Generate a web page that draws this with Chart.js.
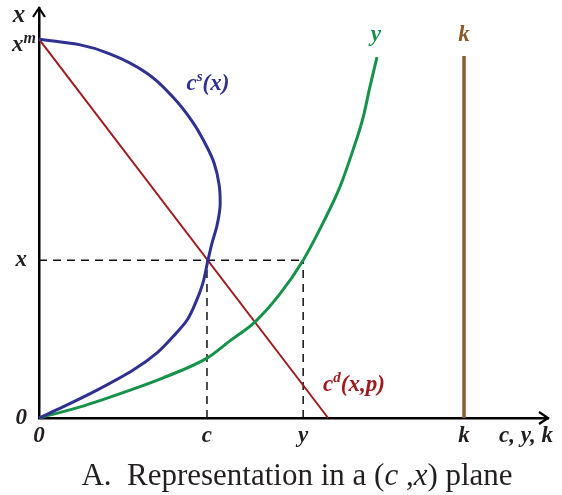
<!DOCTYPE html>
<html>
<head>
<meta charset="utf-8">
<script src="https://cdn.jsdelivr.net/npm/chart.js@4.4.1/dist/chart.umd.min.js"></script>
<style>
  body { margin: 0; background: #fff; }
  canvas { display: block; }
</style>
</head>
<body>
<canvas id="plane" width="562" height="495"></canvas>
<script>
// values (horizontal: c, y, k ; vertical: x), axis range 0..10
const supplyC = [0, 0.47, 1.14, 1.85, 2.32, 2.63, 2.91, 3.10, 3.22, 3.32, 3.40, 3.50, 3.56, 3.54, 3.44, 3.30, 3.03, 2.63, 2.12, 1.45, 0.81, 0];
const supplyX = [0, 0.27, 0.68, 1.17, 1.59, 1.98, 2.39, 2.88, 3.29, 3.85, 4.27, 4.71, 5.24, 5.68, 6.22, 6.61, 7.20, 7.83, 8.41, 8.85, 9.10, 9.24];

const outputY = [0, 0.81, 1.79, 2.44, 3.30, 3.75, 4.24, 4.73, 5.19, 5.58, 5.91, 6.17, 6.37, 6.50, 6.64];
const outputX = [0, 0.27, 0.68, 0.98, 1.46, 1.88, 2.34, 3.02, 3.85, 4.76, 5.63, 6.54, 7.34, 8.07, 8.80];

const demandC = [0, 5.68];
const demandX = [9.24, 0];

const capK = 8.35;
const capTop = 8.83;

const eqC = 3.30;
const eqY = 5.19;
const eqX = 3.85;
const xMax = 9.24;

const xTickVals = [0, eqC, eqY, capK];
const xTickLabels = ["0", "c", "y", "k"];
const yTickVals = [0, eqX, xMax];
const yTickLabels = ["0", "x", ""];

const BLUE = "#2e3192", GREEN = "#16924a", RED = "#9e1b20", BROWN = "#8e5a2a", INK = "#231f20";
const BI = "bold italic 23px 'Liberation Serif'";

const pts = (xs, ys) => xs.map((v, i) => ({ x: v, y: ys[i] }));

function line(data, color, width, extra) {
  return Object.assign({
    data, borderColor: color, borderWidth: width,
    pointRadius: 0, tension: 0, fill: false, clip: false
  }, extra || {});
}

// draw a run of text pieces: [text, font, dy]
function drawRun(ctx, parts, x, y, color, align) {
  let total = 0;
  parts.forEach(p => { ctx.font = p[1]; total += ctx.measureText(p[0]).width; });
  let cx = align === "center" ? x - total / 2 : align === "right" ? x - total : x;
  ctx.fillStyle = color;
  ctx.textAlign = "left";
  ctx.textBaseline = "alphabetic";
  parts.forEach(p => {
    ctx.font = p[1];
    ctx.fillText(p[0], cx, y + (p[2] || 0));
    cx += ctx.measureText(p[0]).width;
  });
}

const decorations = {
  id: "decorations",
  afterDraw(chart) {
    const ctx = chart.ctx;
    const { left, right, top, bottom } = chart.chartArea;
    const xs = chart.scales.x, ys = chart.scales.y;
    ctx.save();

    // arrow heads on the axes
    ctx.strokeStyle = "#000";
    ctx.lineWidth = 2.2;
    ctx.beginPath();
    ctx.moveTo(left - 6, top + 9); ctx.lineTo(left, top); ctx.lineTo(left + 6, top + 9);
    ctx.moveTo(right - 9, bottom - 6); ctx.lineTo(right, bottom); ctx.lineTo(right - 9, bottom + 6);
    ctx.stroke();

    // axis names
    drawRun(ctx, [["x", "bold italic 25px 'Liberation Serif'"]], left - 20, top + 14, INK, "center");
    drawRun(ctx, [["c, y, k", BI]], right - 22, bottom + 24, INK, "center");
    drawRun(ctx, [["x", BI], ["m", "bold italic 16px 'Liberation Serif'", -8]],
      left - 3, ys.getPixelForValue(xMax) + 12, INK, "right");

    // curve names
    drawRun(ctx, [["c", BI], ["s", "bold italic 15px 'Liberation Serif'", -9], ["(x)", BI]],
      xs.getPixelForValue(3.32), ys.getPixelForValue(8.0), BLUE, "center");
    drawRun(ctx, [["y", BI]], xs.getPixelForValue(6.62), ys.getPixelForValue(9.2), GREEN, "center");
    drawRun(ctx, [["k", BI]], xs.getPixelForValue(capK), ys.getPixelForValue(9.2), BROWN, "center");
    drawRun(ctx, [["c", BI], ["d", "bold italic 15px 'Liberation Serif'", -9], ["(x,p)", BI]],
      xs.getPixelForValue(5.58), ys.getPixelForValue(0.66), RED, "left");

    // caption
    const R = "31px 'Liberation Serif'", I = "italic 31px 'Liberation Serif'";
    drawRun(ctx, [["A.  Representation in a (", R], ["c", I], [" ,", R], ["x", I], [") plane", R]],
      297, 485, INK, "center");

    ctx.restore();
  }
};

new Chart(document.getElementById("plane"), {
  type: "line",
  data: {
    datasets: [
      // supply curve is a function of x (vertical), so interpolate along y
      line(pts(supplyC, supplyX), BLUE, 3, { indexAxis: "y", cubicInterpolationMode: "monotone" }),
      line(pts(outputY, outputX), GREEN, 3, { cubicInterpolationMode: "monotone" }),
      line(pts(demandC, demandX), RED, 2),
      line([{ x: capK, y: 0 }, { x: capK, y: capTop }], BROWN, 3.5),
      line([{ x: 0, y: eqX }, { x: eqY, y: eqX }], "#111", 1.5, { borderDash: [8, 6] }),
      line([{ x: eqC, y: 0 }, { x: eqC, y: eqX }], "#111", 1.5, { borderDash: [8, 6] }),
      line([{ x: eqY, y: 0 }, { x: eqY, y: eqX }], "#111", 1.5, { borderDash: [8, 6] })
    ]
  },
  options: {
    responsive: false,
    animation: false,
    layout: { padding: { top: 8, right: 14, left: 0, bottom: 0 } },
    plugins: { legend: { display: false }, tooltip: { enabled: false } },
    scales: {
      x: {
        type: "linear", min: 0, max: 10,
        grid: { display: false, drawTicks: false },
        border: { display: true, color: "#000", width: 2.5 },
        afterBuildTicks: s => { s.ticks = xTickVals.map(v => ({ value: v })); },
        afterFit: s => { s.height = 77; s.paddingLeft = 0; s.paddingRight = 0; },
        ticks: {
          autoSkip: false, maxRotation: 0, padding: 4, color: INK,
          font: { family: "'Liberation Serif'", size: 23, style: "italic", weight: "bold" },
          callback: (v, i) => xTickLabels[i]
        }
      },
      y: {
        type: "linear", min: 0, max: 10,
        grid: { display: false, drawTicks: false },
        border: { display: true, color: "#000", width: 2.5 },
        afterBuildTicks: s => { s.ticks = yTickVals.map(v => ({ value: v })); },
        afterFit: s => { s.width = 39; s.paddingTop = 0; s.paddingBottom = 0; },
        ticks: {
          autoSkip: false, padding: 12, color: INK,
          font: { family: "'Liberation Serif'", size: 23, style: "italic", weight: "bold" },
          callback: (v, i) => yTickLabels[i]
        }
      }
    }
  },
  plugins: [decorations]
});
</script>
</body>
</html>
